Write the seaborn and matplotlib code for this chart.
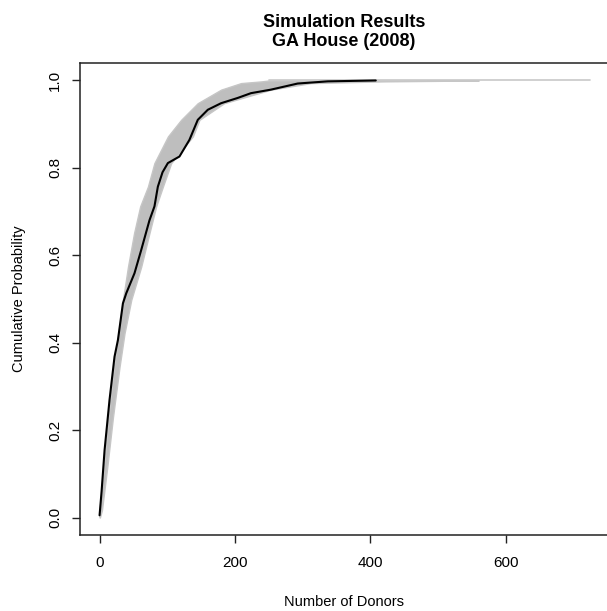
import numpy as np
import pandas as pd
import matplotlib
matplotlib.use("Agg")
import matplotlib.pyplot as plt
import seaborn as sns

obs_donors = [0, 3, 7.4, 14.7, 22.1, 27.1, 34.5, 39.4, 51.6, 61.5, 73.7, 81.1,
              86.1, 93, 100.9, 118, 132.7, 145.1, 159.9, 179.5, 204, 223.7,
              253, 292.6, 337, 408]
obs_prob = [0.005, 0.06, 0.154, 0.269, 0.368, 0.406, 0.49, 0.513, 0.559, 0.612,
            0.68, 0.712, 0.757, 0.79, 0.811, 0.826, 0.864, 0.91, 0.933, 0.948,
            0.96, 0.971, 0.979, 0.993, 0.998, 1.0]

# envelope of the simulated curves (grey band)
band_prob = [0.0, 0.017, 0.116, 0.23, 0.345, 0.422, 0.498, 0.574, 0.651, 0.712,
             0.757, 0.811, 0.872, 0.91, 0.948, 0.979, 0.994, 0.998, 1.0]
band_left = [0, 0, 6.5, 13.3, 21.2, 28, 34.5, 42, 51, 60, 71.4, 81, 101,
             120.5, 145, 179.5, 209, 240, 250]
band_right = [0.5, 3.5, 11.4, 19.8, 29.5, 36.9, 46.8, 61.5, 73.7, 83.6, 93.5,
              105.8, 137.8, 147.5, 184, 253, 312, 420, 560]
tail_start = 250
tail_end = 725

x_ticks = [0, 200, 400, 600]
y_ticks = [0.0, 0.2, 0.4, 0.6, 0.8, 1.0]

sns.set_style("ticks")
plt.rcParams["font.family"] = ["Liberation Sans", "DejaVu Sans"]
plt.rcParams["text.color"] = "black"
plt.rcParams["axes.labelcolor"] = "black"
plt.rcParams["xtick.color"] = "black"
plt.rcParams["ytick.color"] = "black"

fig = plt.figure(figsize=(6.07, 6.11), dpi=100)
ax = fig.add_axes([0.1318, 0.1244, 0.8697, 0.7725])

ax.fill_betweenx(band_prob, band_left, band_right, color="#bebebe", lw=1.0,
                 edgecolor="#c6c6c6")
ax.plot([tail_start, tail_end], [1.0, 1.0], color="#c8c8c8", lw=1.2)

obs = pd.DataFrame({"donors": obs_donors, "prob": obs_prob})
sns.lineplot(data=obs, x="donors", y="prob", color="black", lw=1.5, ax=ax,
             estimator=None, sort=False)

ax.set_xlim(-28.9, 750.9)
ax.set_ylim(-0.04, 1.04)
ax.set_xticks(x_ticks)
ax.set_yticks(y_ticks)
ax.set_xticklabels([str(t) for t in x_ticks])
ax.set_yticklabels([f"{t:.1f}" for t in y_ticks], rotation=90, va="center")
ax.tick_params(axis="both", labelsize=11, length=6, width=1, color="#222222")
ax.tick_params(axis="x", pad=9)
ax.tick_params(axis="y", pad=7)

for side in ["top", "bottom", "left", "right"]:
    ax.spines[side].set_linewidth(1.1)
    ax.spines[side].set_color("#222222")

ax.set_xlabel("Number of Donors", fontsize=10.5, labelpad=18)
ax.set_ylabel("Cumulative Probability", fontsize=10.5, labelpad=16)
ax.set_title("Simulation Results\nGA House (2008)", fontsize=13,
             fontweight="bold", pad=12, linespacing=1.15)

fig.savefig("out.png", dpi=100)
